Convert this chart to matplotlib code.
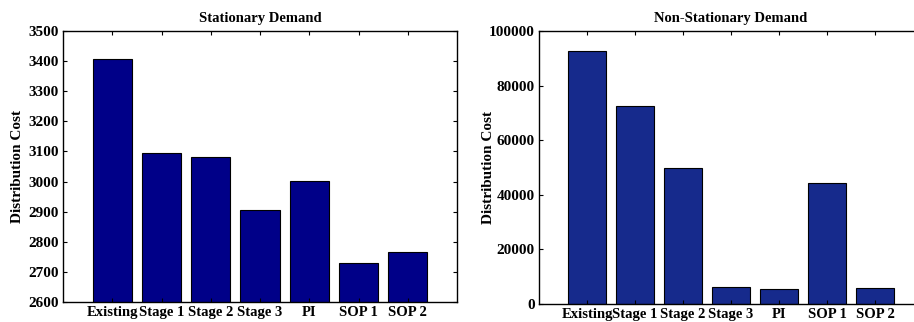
import numpy as np
import matplotlib
matplotlib.use("Agg")
import matplotlib.pyplot as plt

# --- Data ---
categories = ["Existing", "Stage 1", "Stage 2", "Stage 3", "PI", "SOP 1", "SOP 2"]
stationary_cost = [3409, 3094, 3082, 2904, 3001, 2730, 2765]
nonstationary_cost = [92900, 72600, 50000, 6000, 5300, 44400, 5600]

plt.rcParams['font.family'] = ['Liberation Serif', 'DejaVu Serif']
plt.rcParams['font.weight'] = 'bold'

fig = plt.figure(figsize=(9.14, 3.22), dpi=100)
ax1 = fig.add_axes([63 / 914, 1 - 301.7 / 322, 394 / 914, 270.4 / 322])
ax2 = fig.add_axes([539 / 914, 1 - 303.7 / 322, 384 / 914, 272.4 / 322])

x = np.arange(1, len(categories) + 1)


def style_axis(ax, title):
    ax.set_xlim(0, 8)
    ax.set_xticks(x)
    ax.set_xticklabels(categories, fontsize=10.5, fontweight='bold')
    ax.tick_params(direction='in', length=3, width=0.8, top=True, right=True,
                   labelsize=10.5, pad=3)
    for lab in ax.get_yticklabels():
        lab.set_fontweight('bold')
        lab.set_fontsize(11)
    for s in ax.spines.values():
        s.set_linewidth(1.0)
    ax.set_title(title, fontsize=10.5, fontweight='bold', pad=7)
    ax.set_ylabel("Distribution Cost", fontsize=11, fontweight='bold')


# --- Stationary demand ---
ax1.bar(x, stationary_cost, width=0.8, color='#000088', edgecolor='black', linewidth=0.8)
ax1.set_ylim(2600, 3500)
ax1.set_yticks(np.arange(2600, 3501, 100))
style_axis(ax1, "Stationary Demand")
ax1.yaxis.set_label_coords(-0.099, 0.5)

# --- Non-stationary demand ---
ax2.bar(x, nonstationary_cost, width=0.8, color='#162a8c', edgecolor='black', linewidth=0.8)
ax2.set_ylim(0, 100000)
ax2.set_yticks(np.arange(0, 100001, 20000))
style_axis(ax2, "Non-Stationary Demand")
ax2.yaxis.set_label_coords(-0.115, 0.5)

fig.savefig("out.png", dpi=100)
plt.close()
